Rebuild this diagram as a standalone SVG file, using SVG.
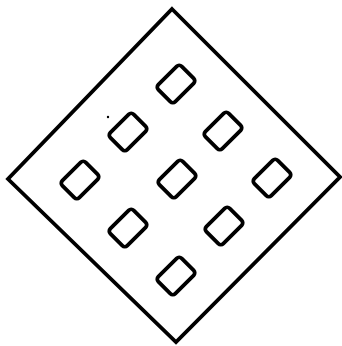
<svg xmlns="http://www.w3.org/2000/svg" width="342" height="346" viewBox="0 0 342 346">
<style>
.outer{fill:#fff;stroke:#000;stroke-width:3.8;stroke-linejoin:miter}
.cell{fill:#fff;stroke:#000;stroke-width:3.8}
</style>
<defs>
<rect id="c" class="cell" x="-16.5" y="-12" width="33" height="24" rx="3.5" transform="rotate(-45)"/>
</defs>
<rect width="342" height="346" fill="#fff"/>
<g id="plate"><polygon class="outer" points="172,9 340,177 176,342 8,179"/></g>
<g id="cell1"><use href="#c" transform="translate(176,84)"/></g>
<g id="cell2"><use href="#c" transform="translate(128,132)"/></g>
<g id="cell3"><use href="#c" transform="translate(223,131)"/></g>
<g id="cell4"><use href="#c" transform="translate(80,180)"/></g>
<g id="cell5"><use href="#c" transform="translate(177,179)"/></g>
<g id="cell6"><use href="#c" transform="translate(272,178)"/></g>
<g id="cell7"><use href="#c" transform="translate(128,228)"/></g>
<g id="cell8"><use href="#c" transform="translate(224,226)"/></g>
<g id="cell9"><use href="#c" transform="translate(176,276)"/></g>
<circle cx="108" cy="117" r="1.2" fill="#000"/>
<g id="connectors"/>
</svg>
